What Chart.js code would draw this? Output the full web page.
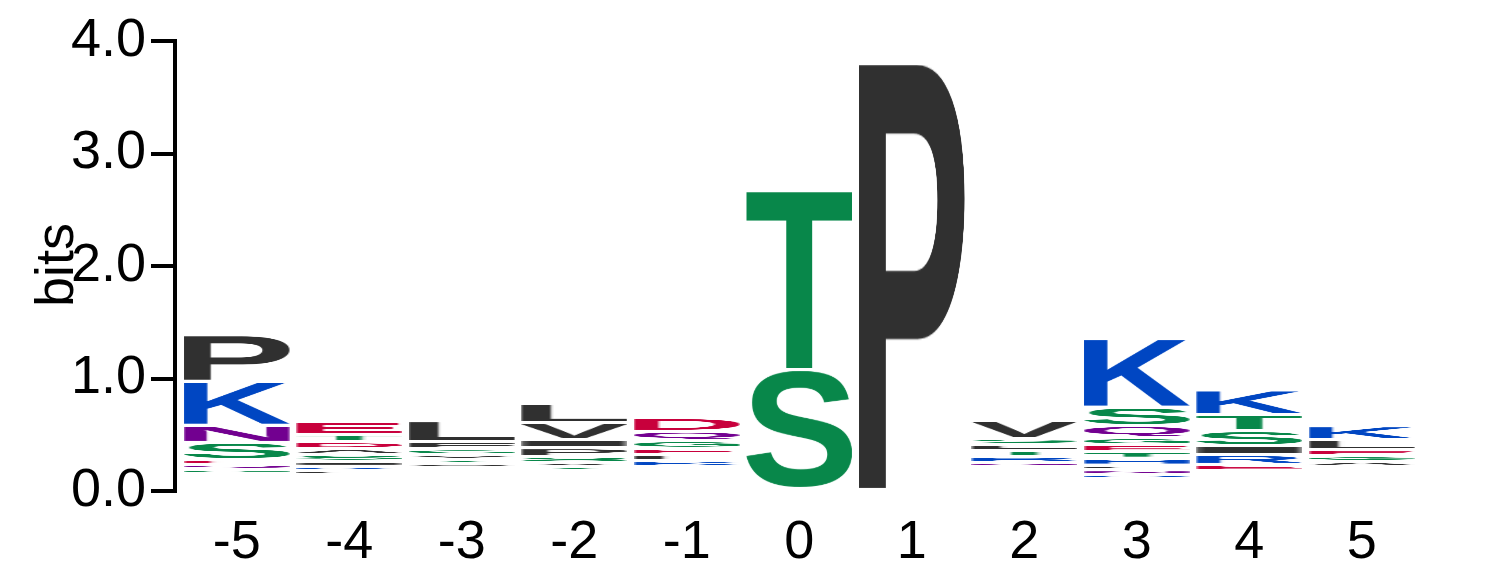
<!DOCTYPE html>
<html>
<head>
<meta charset="utf-8">
<script src="https://cdn.jsdelivr.net/npm/chart.js@4/dist/chart.umd.min.js"></script>
<style>
  body { margin: 0; background: #fff; }
  #wrap { width: 1486px; height: 583px; position: relative; }
</style>
</head>
<body>
<div id="wrap"><canvas id="logo"></canvas></div>
<script>
// positions along the sequence (x tick labels)
const positions = ['-5', '-4', '-3', '-2', '-1', '0', '1', '2', '3', '4', '5'];
const yTicks = ['0.0', '1.0', '2.0', '3.0', '4.0'];

// letters of each column, top to bottom, with their height in bits
const colM5 = [['P', 0.412], ['K', 0.391], ['N', 0.151], ['S', 0.154], ['E', 0.044], ['Q', 0.042], ['G', 0.041]];
const colM4 = [['E', 0.110], ['T', 0.068], ['D', 0.060], ['A', 0.051], ['S', 0.060], ['I', 0.044], ['K', 0.038], ['L', 0.039]];
const colM3 = [['L', 0.184], ['F', 0.066], ['G', 0.050], ['V', 0.041], ['T', 0.036], ['A', 0.036]];
const colM2 = [['L', 0.170], ['V', 0.150], ['I', 0.074], ['P', 0.074], ['S', 0.057], ['A', 0.036], ['T', 0.036]];
const colM1 = [['D', 0.120], ['Q', 0.085], ['G', 0.066], ['E', 0.060], ['L', 0.053], ['K', 0.048]];
const colP0 = [['T', 1.591], ['S', 1.058]];
const colP1 = [['P', 3.790]];
const colP2 = [['V', 0.160], ['S', 0.053], ['L', 0.053], ['T', 0.057], ['R', 0.050], ['N', 0.036]];
const colP3 = [['K', 0.610], ['S', 0.164], ['Q', 0.109], ['G', 0.062], ['E', 0.062], ['T', 0.056], ['H', 0.062], ['L', 0.044], ['N', 0.041], ['R', 0.038]];
const colP4 = [['K', 0.220], ['T', 0.142], ['S', 0.133], ['I', 0.080], ['R', 0.085], ['E', 0.056]];
const colP5 = [['K', 0.124], ['L', 0.086], ['E', 0.057], ['G', 0.047], ['A', 0.047]];

// bits taken by letters too small to be drawn (bottom of each stack)
const hiddenBits = [0.153, 0.145, 0.211, 0.180, 0.220, 0.022, 0.013, 0.220, 0.108, 0.182, 0.218];

const columns = [colM5, colM4, colM3, colM2, colM1, colP0, colP1, colP2, colP3, colP4, colP5];

// chemistry colours
const black = '#303030', blue = '#0046c2', green = '#08874a', red = '#c8003c', purple = '#720090';
const aaColor = {
  A: black, V: black, L: black, I: black, P: black, F: black, W: black, M: black,
  K: blue, R: blue, H: blue,
  D: red, E: red,
  S: green, T: green, G: green, Y: green, C: green,
  N: purple, Q: purple
};

// one dataset per stack level, bottom first
const datasets = [{
  label: 'hidden',
  data: hiddenBits.map((b, i) => ({ x: +positions[i], y: b })),
  backgroundColor: 'rgba(0,0,0,0)',
  borderWidth: 0
}];
const depth = Math.max(...columns.map(c => c.length));
for (let r = 0; r < depth; r++) {
  const pts = [];
  columns.forEach((col, i) => {
    const bottomUp = col.slice().reverse();
    if (bottomUp[r]) pts.push({ x: +positions[i], y: bottomUp[r][1], letter: bottomUp[r][0] });
  });
  datasets.push({ label: 'level ' + r, data: pts, glyphs: true, backgroundColor: 'rgba(0,0,0,0)', borderWidth: 0 });
}

// each letter is rendered once offscreen, cropped to its ink and then stretched
const glyphCache = {};
function glyphImage(letter) {
  if (glyphCache[letter]) return glyphCache[letter];
  const c = document.createElement('canvas');
  c.width = 800; c.height = 800;
  const g = c.getContext('2d');
  g.font = 'bold 600px "Liberation Sans", Arial, sans-serif';
  g.textBaseline = 'alphabetic';
  g.fillStyle = aaColor[letter];
  g.fillText(letter, 100, 650);
  const px = g.getImageData(0, 0, 800, 800).data;
  let x0 = 800, x1 = -1, y0 = 800, y1 = -1;
  for (let y = 0; y < 800; y++) {
    for (let x = 0; x < 800; x++) {
      if (px[(y * 800 + x) * 4 + 3] > 60) {
        if (x < x0) x0 = x;
        if (x > x1) x1 = x;
        if (y < y0) y0 = y;
        if (y > y1) y1 = y;
      }
    }
  }
  glyphCache[letter] = { img: c, x: x0, y: y0, w: x1 - x0 + 1, h: y1 - y0 + 1 };
  return glyphCache[letter];
}

function drawGlyph(ctx, letter, x, y, w, h) {
  const gl = glyphImage(letter);
  ctx.save();
  ctx.imageSmoothingEnabled = true;
  ctx.imageSmoothingQuality = 'high';
  ctx.drawImage(gl.img, gl.x, gl.y, gl.w, gl.h, x, y, w, h);
  ctx.restore();
}

// stretch each letter into its bar
const glyphPlugin = {
  id: 'glyphs',
  afterDatasetsDraw(chart) {
    const ctx = chart.ctx;
    chart.data.datasets.forEach((ds, d) => {
      if (!ds.glyphs) return;
      chart.getDatasetMeta(d).data.forEach((bar, i) => {
        const top = Math.min(bar.y, bar.base) + 1.5;
        const h = Math.abs(bar.base - bar.y) - 3;
        drawGlyph(ctx, ds.data[i].letter, bar.x - bar.width / 2, top, bar.width, Math.max(h, 0.8));
      });
    });
  }
};

// "bits" title, sitting over the tick labels like the original
const bitsLabel = {
  id: 'bitsLabel',
  afterDraw(chart) {
    const ctx = chart.ctx;
    ctx.save();
    ctx.translate(73, 265);
    ctx.rotate(-Math.PI / 2);
    ctx.font = '54px "Liberation Sans", Arial, sans-serif';
    ctx.fillStyle = '#000';
    ctx.textAlign = 'center';
    ctx.textBaseline = 'alphabetic';
    ctx.fillText('bits', 0, 0);
    ctx.restore();
  }
};

const tickFont = { family: '"Liberation Sans", Arial, sans-serif', size: 54 };

new Chart(document.getElementById('logo'), {
  type: 'bar',
  data: { datasets: datasets },
  plugins: [glyphPlugin, bitsLabel],
  options: {
    responsive: true,
    maintainAspectRatio: false,
    animation: false,
    layout: { padding: { left: 0, right: 68, top: 41, bottom: 0 } },
    datasets: { bar: { categoryPercentage: 1, barPercentage: 0.94 } },
    plugins: { legend: { display: false }, tooltip: { enabled: false } },
    scales: {
      x: {
        type: 'linear',
        stacked: true,
        offset: false,
        min: -5.548,
        max: 5.5,
        grid: { display: false, drawTicks: false, offset: false },
        border: { display: false },
        ticks: {
          stepSize: 1,
          includeBounds: false,
          autoSkip: false,
          maxRotation: 0,
          padding: 20,
          color: '#000',
          font: tickFont,
          callback: (v) => positions[v + 5]
        },
        afterFit: (scale) => { scale.height = 92; }
      },
      y: {
        stacked: true,
        min: 0,
        max: 4,
        grid: { drawOnChartArea: false, drawTicks: true, tickLength: 24, lineWidth: 4, color: '#000' },
        border: { display: true, color: '#000', width: 4 },
        ticks: {
          stepSize: 1,
          padding: 5,
          color: '#000',
          font: tickFont,
          callback: (v) => yTicks[v]
        },
        afterFit: (scale) => { scale.width = 175; }
      }
    }
  }
});
</script>
</body>
</html>
